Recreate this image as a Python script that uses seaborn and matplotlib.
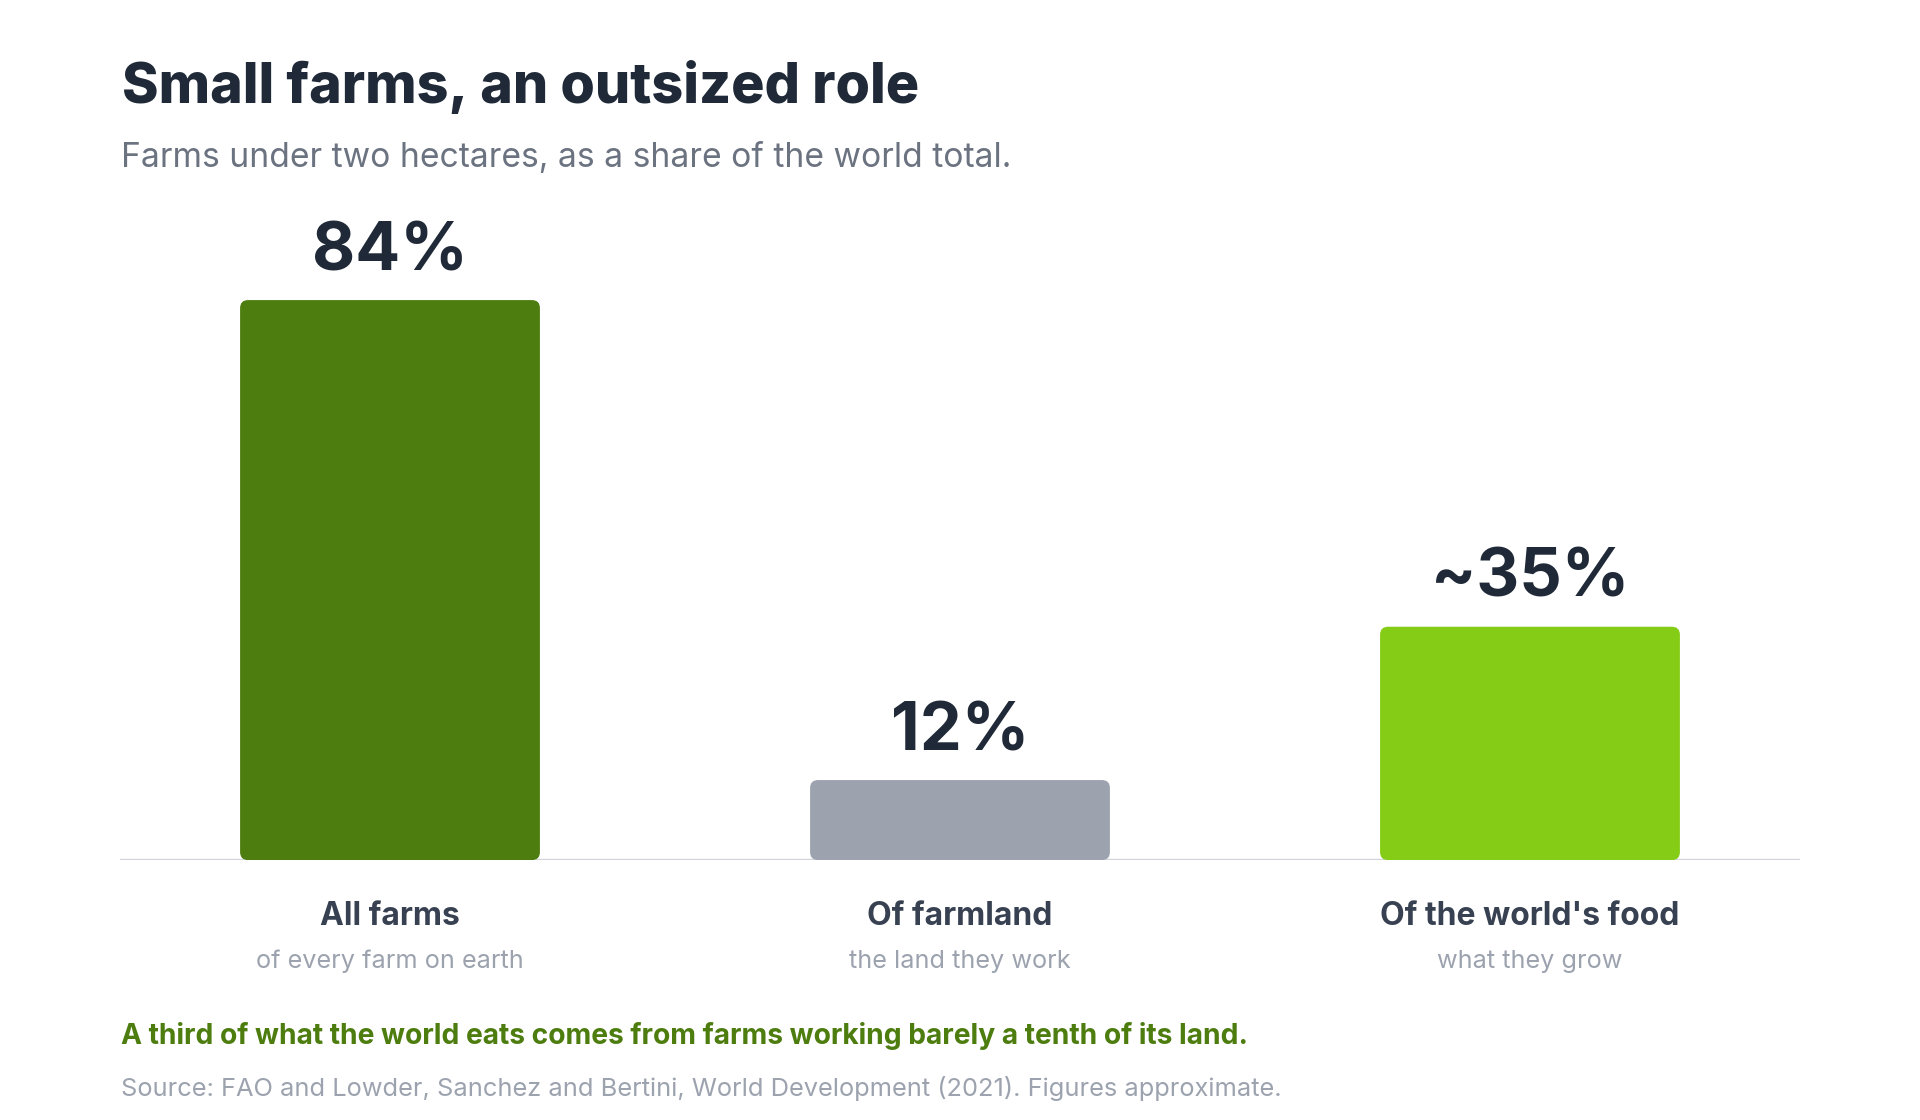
import matplotlib
matplotlib.use("Agg")
import matplotlib.pyplot as plt
from matplotlib.patches import FancyBboxPatch
import seaborn as sns

# data
categories = ["All farms", "Of farmland", "Of the world's food"]
sublabels = ["of every farm on earth", "the land they work", "what they grow"]
values = [84, 12, 35]
value_labels = ["84%", "12%", "~35%"]
bar_colors = ["#4d7c0f", "#9ca3af", "#84cc16"]

title = "Small farms, an outsized role"
subtitle = "Farms under two hectares, as a share of the world total."
note = "A third of what the world eats comes from farms working barely a tenth of its land."
source = "Source: FAO and Lowder, Sanchez and Bertini, World Development (2021). Figures approximate."

sns.set_style("white")
plt.rcParams["font.family"] = ["Inter", "DejaVu Sans"]

fig = plt.figure(figsize=(19.2, 11.2), dpi=100)
fig.patch.set_facecolor("white")
ax = fig.add_axes([120 / 1920, 0.2321, 1680 / 1920, 0.5952])

sns.barplot(x=categories, y=values, hue=categories, palette=bar_colors,
            legend=False, width=0.526, saturation=1, ax=ax, zorder=3)

ax.set_xlim(-0.4737, 2.4737)
ax.set_ylim(0, 100)
ax.axis("off")
ax.axhline(0, color="#d1d5db", lw=2.4, zorder=2)

# swap plain rectangles for rounded ones
p0 = ax.transData.transform((0, 0))
px_x = ax.transData.transform((1, 0))[0] - p0[0]
px_y = ax.transData.transform((0, 1))[1] - p0[1]
aspect = px_x / px_y
for p in list(ax.patches):
    x, y = p.get_x(), p.get_y()
    w, h = p.get_width(), p.get_height()
    fc = p.get_facecolor()
    p.remove()
    ax.add_patch(FancyBboxPatch((x, y), w, h,
                                boxstyle="round,pad=0,rounding_size=%f" % (8 / px_x),
                                mutation_aspect=aspect, fc=fc, ec="none", zorder=3))

for i, (v, lab) in enumerate(zip(values, value_labels)):
    ax.annotate(lab, xy=(i, v), xytext=(0, 21.6), textcoords="offset points",
                ha="center", va="baseline", fontsize=48, fontweight="bold",
                color="#1f2937")

for i, (cat, sub) in enumerate(zip(categories, sublabels)):
    ax.annotate(cat, xy=(i, 0.1740), xycoords=("data", "figure fraction"),
                ha="center", va="baseline", fontsize=23, fontweight="bold",
                color="#374151")
    ax.annotate(sub, xy=(i, 0.1355), xycoords=("data", "figure fraction"),
                ha="center", va="baseline", fontsize=18.2, color="#9ca3af")

fig.text(122 / 1920, 0.9080, title, fontsize=40, fontweight="heavy",
         color="#1f2937", va="baseline")
fig.text(121 / 1920, 0.8509, subtitle, fontsize=24.2, color="#6b7280", va="baseline")
fig.text(121 / 1920, 0.0680, note, fontsize=20.3, fontweight="bold",
         color="#4d7c0f", va="baseline")
fig.text(121 / 1920, 0.0210, source, fontsize=18.3, color="#9ca3af", va="baseline")

fig.savefig("out.png", dpi=100, facecolor="white")
